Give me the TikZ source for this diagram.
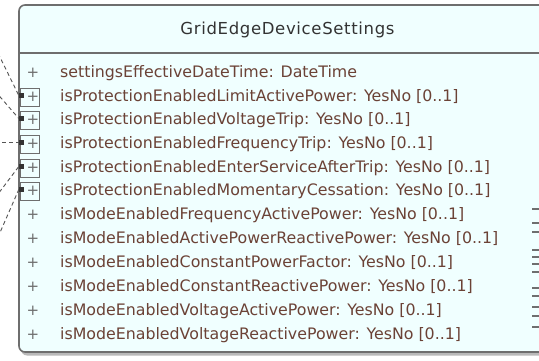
\documentclass[tikz,border=0pt]{standalone}
\usepackage{fontspec}
\setmainfont{DejaVu Sans}
\newfontfamily\titlefont[LetterSpace=4]{DejaVu Sans}
\definecolor{boxfill}{HTML}{F0FFFF}
\definecolor{edge}{HTML}{6E6E6E}
\definecolor{attrtext}{HTML}{6B4236}
\definecolor{titletext}{HTML}{333333}
\definecolor{linkgray}{HTML}{555555}
\tikzset{
  attr/.style={anchor=west, inner sep=0pt, text=attrtext, font=\fontsize{15.8}{17}\selectfont},
  vis/.style={inner sep=0pt, text=edge, font=\fontsize{15}{17}\selectfont},
  title/.style={inner sep=0pt, text=titletext, font=\titlefont\fontsize{16.5}{18}\selectfont},
  portbox/.style={draw=edge, line width=0.9pt, minimum width=19pt, minimum height=18pt, inner sep=0pt},
  portdot/.style={fill=titletext, minimum size=5pt, inner sep=0pt},
  link/.style={draw=linkgray, line width=0.9pt, dash pattern=on 4pt off 3pt},
  stub/.style={draw=edge, line width=1.1pt}
}
\begin{document}
\begin{tikzpicture}[x=1pt,y=-1pt]
\useasboundingbox (0,0) rectangle (539,361);
\clip (0,0) rectangle (539,361);
\fill[white] (0,0) rectangle (539,361);
% class box with shadow
\fill[gray!55, rounded corners=6pt] (21,8) rectangle (600,355.5);
\draw[fill=boxfill, draw=edge, line width=1.6pt, rounded corners=6pt] (19,5) rectangle (600,352);
\draw[edge, line width=1.6pt] (19,53) -- (600,53);
\node[title] (title) at (287.5,30) {GridEdgeDeviceSettings};
% attribute rows
\foreach \i/\y/\t in {
  1/73/{settingsEffectiveDateTime: DateTime},
  2/97/{isProtectionEnabledLimitActivePower: YesNo [0..1]},
  3/120/{isProtectionEnabledVoltageTrip: YesNo [0..1]},
  4/144/{isProtectionEnabledFrequencyTrip: YesNo [0..1]},
  5/168/{isProtectionEnabledEnterServiceAfterTrip: YesNo [0..1]},
  6/191/{isProtectionEnabledMomentaryCessation: YesNo [0..1]},
  7/215/{isModeEnabledFrequencyActivePower: YesNo [0..1]},
  8/239/{isModeEnabledActivePowerReactivePower: YesNo [0..1]},
  9/263/{isModeEnabledConstantPowerFactor: YesNo [0..1]},
  10/287/{isModeEnabledConstantReactivePower: YesNo [0..1]},
  11/311/{isModeEnabledVoltageActivePower: YesNo [0..1]},
  12/335/{isModeEnabledVoltageReactivePower: YesNo [0..1]}}{
  \node[vis] (v\i) at (33,\y) {+};
  \node[attr] (r\i) at (60,\y) {\t};
}
% ports on the association ends
\foreach \i/\y in {2/97,3/120,4/144,5/168,6/191}{
  \node[portbox] (p\i) at (30,\y) {};
  \node[portdot] (d\i) at (21.5,\y-1.5) {};
}
% association links coming in from the left
\coordinate (c2) at (-5,47);
\coordinate (c3) at (-5,91);
\coordinate (c4) at (-5,142.5);
\coordinate (c5) at (-5,198);
\coordinate (c6) at (-5,244);
\foreach \i in {2,...,6}{
  \draw[link] (c\i) -- (d\i.west);
}
% stubs of links leaving to the right
\foreach \y in {209,223,232,250,257,264,272,288,296,307,316,327}{
  \coordinate (s\y) at (532,\y);
  \coordinate (t\y) at (545,\y);
  \draw[stub] (s\y) -- (t\y);
}
\end{tikzpicture}
\end{document}
